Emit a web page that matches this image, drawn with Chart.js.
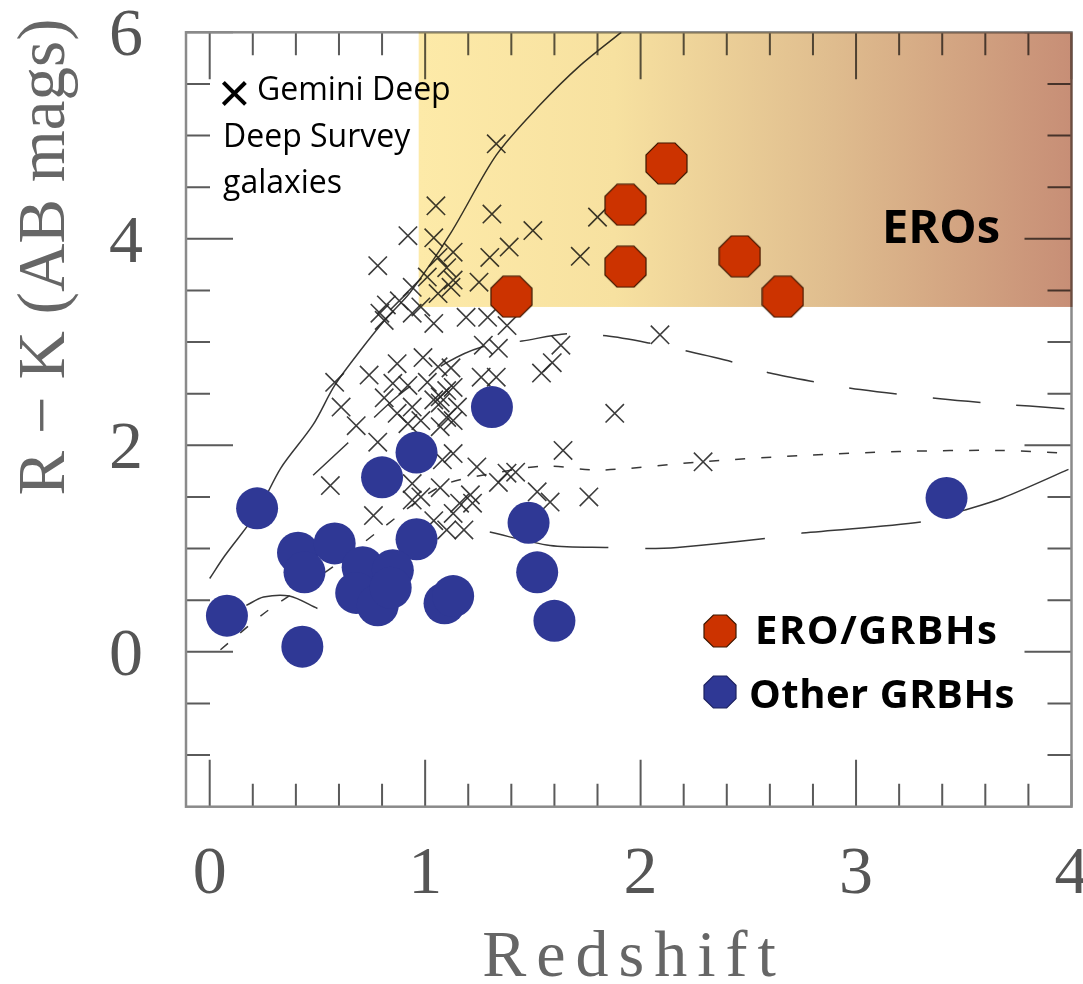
<!DOCTYPE html>
<html>
<head>
<meta charset="utf-8">
<script src="https://cdn.jsdelivr.net/npm/chart.js@4.4.1/dist/chart.umd.min.js"></script>
<style>
  html, body { margin: 0; padding: 0; background: #fff; }
  #c { display: block; }
</style>
</head>
<body>
<canvas id="c" width="1083" height="984"></canvas>
<script>
// ---- data ----
// ERO host galaxies (red octagons)
const eroZ  = [1.40, 1.93, 1.93, 2.12, 2.46, 2.66]
const eroRK = [3.44, 3.73, 4.33, 4.73, 3.83, 3.44]

// other GRB hosts (blue discs)
const otherZ  = [0.22, 0.08, 0.43, 1.31, 0.96, 0.80, 0.41, 0.44, 0.58, 0.96, 0.71, 0.85, 0.68, 0.78, 0.84, 1.09, 1.13, 1.48, 1.52, 1.60, 3.42]
const otherRK = [1.39, 0.35, 0.05, 2.37, 1.93, 1.69, 0.96, 0.77, 1.05, 1.09, 0.82, 0.79, 0.57, 0.45, 0.62, 0.47, 0.54, 1.25, 0.77, 0.30, 1.49]

// Gemini Deep Deep Survey galaxies (crosses)
const gddsZ = [1.33, 1.31, 1.50, 1.39, 1.30, 1.13, 1.05, 0.92, 1.80, 1.72, 0.78, 1.04, 1.13, 1.25, 1.06, 1.10,
               1.01, 0.94, 1.12, 1.06, 0.88, 0.82, 0.98, 0.79, 1.19, 1.29, 1.38, 1.04, 0.94, 0.81, 1.27, 1.34,
               1.63, 1.59, 1.54, 1.26, 1.33, 1.12, 1.10, 1.07, 1.10, 1.88, 2.09, 1.64, 2.29, 1.76, 1.52, 1.58,
               1.38, 1.42, 1.34, 1.24, 1.13, 1.21, 1.16, 1.07, 0.58, 0.74, 0.87, 0.99, 0.81, 0.92, 1.01, 1.07,
               1.13, 0.61, 0.68, 0.78, 0.87, 0.98, 0.56, 0.94, 1.08, 0.98, 0.76, 0.94, 1.04, 1.13, 1.18, 1.22,
               1.10, 0.85, 0.94, 1.04, 0.92, 1.07, 1.06, 1.15, 1.13]
const gddsRK = [4.92, 4.24, 4.08, 3.92, 3.82, 3.87, 4.32, 4.03, 4.21, 3.83, 3.74, 4.01, 3.60, 3.58, 3.82, 3.72,
                3.63, 3.53, 3.53, 3.47, 3.40, 3.36, 3.34, 3.28, 3.24, 3.24, 3.16, 3.18, 3.28, 3.21, 2.97, 2.94,
                2.97, 2.80, 2.70, 2.66, 2.66, 2.75, 2.53, 2.41, 2.27, 2.31, 3.07, 1.95, 1.84, 1.50, 1.55, 1.45,
                1.73, 1.74, 1.64, 1.79, 1.92, 1.52, 1.44, 1.59, 2.61, 2.68, 2.79, 2.85, 2.46, 2.58, 2.61, 2.47,
                2.56, 2.37, 2.19, 2.03, 2.31, 2.24, 1.61, 1.63, 1.86, 1.50, 1.32, 1.47, 1.27, 1.34, 1.18, 1.44,
                1.18, 2.60, 2.37, 2.44, 2.21, 2.18, 2.76, 2.37, 2.24]

// model tracks
const solidZ  = [0.00, 0.07, 0.22, 0.33, 0.48, 0.58, 0.70, 0.82, 0.93, 1.12, 1.33, 1.53, 1.72, 1.91]
const solidRK = [0.71, 0.93, 1.35, 1.78, 2.20, 2.58, 2.92, 3.23, 3.48, 4.06, 4.81, 5.29, 5.68, 6.00]
const longZ   = [0.48, 0.64, 0.88, 1.10, 1.26, 1.45, 1.66, 1.84, 2.04, 2.22, 2.44, 2.60, 2.82, 3.02, 3.39, 3.61, 4.00]
const longRK  = [1.71, 2.02, 2.49, 2.80, 2.95, 3.01, 3.08, 3.06, 2.99, 2.91, 2.80, 2.70, 2.61, 2.54, 2.45, 2.41, 2.35]
const shortZ  = [0.05, 0.27, 0.57, 0.79, 1.08, 1.35, 1.56, 1.81, 2.28, 2.74, 3.20, 3.67, 4.00]
const shortRK = [0.02, 0.40, 0.82, 1.18, 1.61, 1.74, 1.80, 1.76, 1.84, 1.90, 1.94, 1.95, 1.92]
const lowZ    = [1.30, 1.58, 1.86, 2.03, 2.17, 2.59, 2.75, 3.31, 3.50, 3.68, 4.00]
const lowRK   = [1.16, 1.03, 1.01, 1.00, 1.01, 1.10, 1.15, 1.26, 1.37, 1.49, 1.78]
const smallZ  = [0.17, 0.25, 0.37, 0.50]
const smallRK = [0.45, 0.53, 0.54, 0.42]

// ERO zone (R-K > 3.34, z > 0.97)
const eroBoxZ  = [0.97, 4.0]
const eroBoxRK = [3.34, 6.0]

// ticks
const xTickLabels = [0, 1, 2, 3, 4]
const xMinorTicks = [0.2, 0.4, 0.6, 0.8, 1.2, 1.4, 1.6, 1.8, 2.2, 2.4, 2.6, 2.8, 3.2, 3.4, 3.6, 3.8]
const yTickLabels = [0, 2, 4, 6]
const yMinorTicks = [-1, -0.5, 0.5, 1, 1.5, 2.5, 3, 3.5, 4.5, 5, 5.5]

function pts(xs, ys) {
    return xs.map((v, i) => ({x: v, y: ys[i]}))
}

function octagon(size, fill, stroke) {
    const c = document.createElement('canvas')
    c.width = c.height = size + 2
    const g = c.getContext('2d')
    const r = (size / 2) / Math.cos(Math.PI / 8)
    g.beginPath()
    for (let i = 0; i < 8; i++) {
        const t = Math.PI / 8 + i * Math.PI / 4
        const px = c.width / 2 + r * Math.cos(t)
        const py = c.height / 2 + r * Math.sin(t)
        if (i == 0) g.moveTo(px, py); else g.lineTo(px, py)
    }
    g.closePath()
    g.fillStyle = fill
    g.fill()
    g.strokeStyle = stroke
    g.lineWidth = 1.2
    g.stroke()
    return c
}

const redOct = octagon(41, '#cc3300', '#3d1800')
const redOctSmall = octagon(32, '#cc3300', '#3d1800')
const blueOctSmall = octagon(32, '#2f3895', '#1d2260')

function track(label, xs, ys, dash) {
    return {
        label: label,
        data: pts(xs, ys),
        showLine: true,
        borderColor: '#383838',
        borderWidth: 1.5,
        borderDash: dash,
        pointRadius: 0,
        tension: 0.3,
        fill: false
    }
}

const decor = {
    id: 'decor',
    beforeDatasetsDraw(chart) {
        const ctx = chart.ctx
        const a = chart.chartArea
        const x = chart.scales.x, y = chart.scales.y
        ctx.save()
        ctx.strokeStyle = '#5a5a5a'
        ctx.lineWidth = 2
        ctx.beginPath()
        const xt = (v, len) => {
            const px = x.getPixelForValue(v)
            ctx.moveTo(px, a.bottom); ctx.lineTo(px, a.bottom - len)
            ctx.moveTo(px, a.top); ctx.lineTo(px, a.top + len)
        }
        const yt = (v, len) => {
            const py = y.getPixelForValue(v)
            ctx.moveTo(a.left, py); ctx.lineTo(a.left + len, py)
            ctx.moveTo(a.right, py); ctx.lineTo(a.right - len, py)
        }
        xTickLabels.forEach(v => xt(v, 47))
        xMinorTicks.forEach(v => xt(v, 23))
        yTickLabels.forEach(v => yt(v, 47))
        yMinorTicks.forEach(v => yt(v, 24))
        ctx.stroke()
        ctx.strokeStyle = '#8a8a8a'
        ctx.lineWidth = 2.5
        ctx.strokeRect(a.left, a.top, a.right - a.left, a.bottom - a.top)

        // tick labels, placed from the scales
        ctx.fillStyle = '#555'
        ctx.font = '68px "Liberation Serif"'
        ctx.textBaseline = 'alphabetic'
        ctx.textAlign = 'center'
        xTickLabels.forEach(v => ctx.fillText(String(v), x.getPixelForValue(v), 893))
        ctx.textAlign = 'right'
        yTickLabels.forEach(v => ctx.fillText(String(v), 143, y.getPixelForValue(v) + 23))
        ctx.restore()
    },
    beforeDatasetDraw(chart, args) {
        if (chart.data.datasets[args.index].label != 'Other GRBHs') return
        const ctx = chart.ctx
        const x = chart.scales.x, y = chart.scales.y
        const x0 = x.getPixelForValue(eroBoxZ[0]), x1 = x.getPixelForValue(eroBoxZ[1]) + 1
        const y0 = y.getPixelForValue(eroBoxRK[1]), y1 = y.getPixelForValue(eroBoxRK[0])
        const grad = ctx.createLinearGradient(x0, 0, x1, 0)
        grad.addColorStop(0, 'rgb(253,234,168)')
        grad.addColorStop(0.3, 'rgb(247,225,160)')
        grad.addColorStop(0.62, 'rgb(224,190,143)')
        grad.addColorStop(1, 'rgb(199,142,118)')
        ctx.save()
        ctx.globalCompositeOperation = 'multiply'
        ctx.fillStyle = grad
        ctx.fillRect(x0, y0, x1 - x0, y1 - y0)
        ctx.restore()
    },
    afterDatasetsDraw(chart) {
        const ctx = chart.ctx
        ctx.save()
        // axis titles
        ctx.fillStyle = '#666'
        ctx.font = '66px "Liberation Serif"'
        ctx.textAlign = 'center'
        ctx.textBaseline = 'alphabetic'
        ctx.letterSpacing = '10px'
        ctx.fillText('Redshift', 634, 976)
        ctx.letterSpacing = '0px'
        ctx.save()
        ctx.translate(64, 257)
        ctx.rotate(-Math.PI / 2)
        ctx.font = '67px "Liberation Serif"'
        ctx.fillText('R \u2212 K (AB mags)', 0, 0)
        ctx.restore()

        // GDDS note
        ctx.fillStyle = '#000'
        ctx.textAlign = 'left'
        ctx.font = '56px "Liberation Sans"'
        ctx.fillText('\u00d7', 218, 112)
        ctx.font = '32px "Open Sans"'
        ctx.fillText('Gemini Deep', 257, 100)
        ctx.fillText('Deep Survey', 223, 147)
        ctx.fillText('galaxies', 223, 193)

        // ERO label
        ctx.font = 'bold 47px "Open Sans"'
        ctx.fillText('EROs', 882, 243)

        // legend
        ctx.drawImage(redOctSmall, 720 - redOctSmall.width / 2, 631 - redOctSmall.height / 2)
        ctx.drawImage(blueOctSmall, 720 - blueOctSmall.width / 2, 692 - blueOctSmall.height / 2)
        ctx.font = 'bold 40px "Open Sans"'
        ctx.letterSpacing = '1.5px'
        ctx.fillText('ERO/GRBHs', 755, 644)
        ctx.letterSpacing = '0.5px'
        ctx.fillText('Other GRBHs', 749, 708)
        ctx.restore()
    }
}

new Chart(document.getElementById('c'), {
    type: 'scatter',
    data: {
        datasets: [
            {
                label: 'ERO/GRBHs',
                data: pts(eroZ, eroRK),
                pointStyle: redOct,
                pointRadius: 21
            },
            {
                label: 'Other GRBHs',
                data: pts(otherZ, otherRK),
                pointStyle: 'circle',
                pointRadius: 21,
                backgroundColor: '#2f3895',
                borderWidth: 0
            },
            {
                label: 'GDDS galaxies',
                data: pts(gddsZ, gddsRK),
                pointStyle: 'crossRot',
                pointRadius: 13,
                borderColor: 'rgba(40,40,40,0.9)',
                borderWidth: 1.6,
                backgroundColor: 'rgba(0,0,0,0)'
            },
            track('passive', solidZ, solidRK, []),
            track('long dash', longZ, longRK, [48, 36]),
            track('short dash', shortZ, shortRK, [10, 16]),
            track('low dash', lowZ, lowRK, [120, 37]),
            track('local', smallZ, smallRK, [])
        ]
    },
    options: {
        responsive: false,
        animation: false,
        devicePixelRatio: 1,
        events: [],
        layout: { autoPadding: false, padding: { left: 0, top: 32.3, right: 11.5, bottom: 0 } },
        plugins: {
            legend: { display: false },
            tooltip: { enabled: false }
        },
        scales: {
            x: {
                type: 'linear',
                position: 'bottom',
                min: -0.11,
                max: 4,
                grid: { display: false, drawTicks: false, tickLength: 0 },
                border: { display: false },
                ticks: { display: false },
                afterFit: (scale) => { scale.height = 177.3; scale.paddingLeft = 0; scale.paddingRight = 0 }
            },
            y: {
                type: 'linear',
                min: -1.5,
                max: 6,
                grid: { display: false, drawTicks: false, tickLength: 0 },
                border: { display: false },
                ticks: { display: false },
                afterFit: (scale) => { scale.width = 186; scale.paddingTop = 0; scale.paddingBottom = 0 }
            }
        }
    },
    plugins: [decor]
})
</script>
</body>
</html>
